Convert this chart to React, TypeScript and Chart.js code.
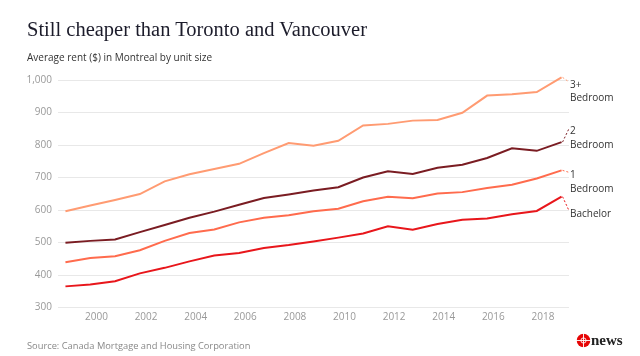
import React, { useEffect, useRef } from "react";
import { Chart, registerables } from "chart.js";

Chart.register(...registerables);

// Survey years (October surveys)
const years = [1998, 1999, 2000, 2001, 2002, 2003, 2004, 2005, 2006, 2007, 2008, 2009, 2010, 2011, 2012, 2013, 2014, 2015, 2016, 2017, 2018];
const surveyMonthOffset = 0.75;

const threePlusBedroom = [596, 614, 631, 649, 688, 710, 726, 742, 775, 806, 798, 813, 860, 865, 875, 877, 899, 952, 956, 963, 1008];
const twoBedroom = [499, 505, 509, 532, 554, 576, 595, 616, 637, 648, 660, 670, 700, 719, 711, 730, 739, 760, 790, 782, 809];
const oneBedroom = [439, 452, 458, 476, 505, 529, 540, 562, 576, 584, 596, 604, 627, 641, 636, 651, 655, 668, 678, 697, 722];
const bachelor = [365, 371, 381, 405, 422, 442, 460, 468, 483, 492, 503, 515, 528, 550, 539, 557, 570, 574, 587, 597, 641];

const xTickLabels = [2000, 2002, 2004, 2006, 2008, 2010, 2012, 2014, 2016, 2018];
const yTickValues = [300, 400, 500, 600, 700, 800, 900, 1000];

const seriesLabels = [["3+", "Bedroom"], ["2", "Bedroom"], ["1", "Bedroom"], ["Bachelor"]];
const seriesValues = [threePlusBedroom, twoBedroom, oneBedroom, bachelor];
const seriesColors = ["#ff9b72", "#7a1c22", "#ff6b4d", "#e8161b"];
// label first-line vertical offset from the last point (px)
const labelOffsets = [7.5, -10.5, 5, 17];

const endLabelPlugin = {
  id: "endLabels",
  afterDatasetsDraw(chart: any) {
    const ctx = chart.ctx;
    ctx.save();
    chart.data.datasets.forEach((ds: any, i: number) => {
      const meta = chart.getDatasetMeta(i);
      const last = meta.data[meta.data.length - 1];
      if (!last) return;
      const px = last.x;
      const py = last.y;
      const lx = chart.chartArea.right + 1;
      const ly = py + labelOffsets[i];
      ctx.strokeStyle = ds.borderColor;
      ctx.lineWidth = 1;
      ctx.setLineDash([2, 2]);
      ctx.beginPath();
      ctx.moveTo(px + 1, py);
      ctx.lineTo(lx - 1, ly - 3);
      ctx.stroke();
      ctx.setLineDash([]);
      ctx.fillStyle = "#333333";
      ctx.font = "10px 'Open Sans'";
      ctx.textAlign = "left";
      ctx.textBaseline = "middle";
      seriesLabels[i].forEach((t, j) => {
        ctx.fillText(t, lx, ly + j * 13.5);
      });
    });
    ctx.restore();
  },
};

export default function App() {
  const ref = useRef<HTMLCanvasElement | null>(null);

  useEffect(() => {
    if (!ref.current) return;
    const chart = new Chart(ref.current, {
      type: "line",
      data: {
        datasets: seriesValues.map((vals, i) => ({
          label: seriesLabels[i].join(" "),
          data: vals.map((v, k) => ({ x: years[k] + surveyMonthOffset, y: v })),
          borderColor: seriesColors[i],
          backgroundColor: seriesColors[i],
          borderWidth: 2,
          pointRadius: 0,
          tension: 0,
          fill: false,
          clip: false,
        })),
      },
      options: {
        animation: false,
        responsive: false,
        devicePixelRatio: 1,
        layout: { padding: { left: 0, right: 71, top: 80, bottom: 0 } },
        plugins: { legend: { display: false }, tooltip: { enabled: false }, title: { display: false } },
        scales: {
          x: {
            type: "linear",
            min: 1998.45,
            max: 2019.05,
            grid: { display: false, drawTicks: false },
            border: { display: false },
            afterBuildTicks: (s: any) => {
              s.ticks = xTickLabels.map((v) => ({ value: v }));
            },
            afterFit: (s: any) => {
              s.height = 48.5;
            },
            ticks: {
              autoSkip: false,
              maxRotation: 0,
              padding: 4,
              color: "#999999",
              font: { family: "'Open Sans'", size: 10 },
              callback: (v: any) => String(v),
            },
          },
          y: {
            type: "linear",
            min: 300,
            max: 1000,
            grid: { color: "#e8e8e8", lineWidth: 1, drawTicks: false },
            border: { display: false },
            afterBuildTicks: (s: any) => {
              s.ticks = yTickValues.map((v) => ({ value: v }));
            },
            afterFit: (s: any) => {
              s.width = 58;
            },
            ticks: {
              padding: 6,
              color: "#999999",
              font: { family: "'Open Sans'", size: 10 },
              callback: (v: any) => Number(v).toLocaleString("en-US"),
            },
          },
        },
      },
      plugins: [endLabelPlugin],
    });
    return () => chart.destroy();
  }, []);

  return (
    <div style={{ position: "absolute", left: 0, top: 0, width: 640, height: 356, background: "#fff", overflow: "hidden" }}>
      <canvas ref={ref} width={640} height={356} style={{ position: "absolute", left: 0, top: 0 }} />
      <div style={{ position: "absolute", left: 27, top: 18.5, fontFamily: "'Liberation Serif', serif", fontSize: 20.5, lineHeight: "20.5px", color: "#1c1c2b", whiteSpace: "nowrap" }}>
        Still cheaper than Toronto and Vancouver
      </div>
      <div style={{ position: "absolute", left: 27, top: 52, fontFamily: "'Open Sans', sans-serif", fontSize: 10, lineHeight: "10px", color: "#333", whiteSpace: "nowrap" }}>
        Average rent ($) in Montreal by unit size
      </div>
      <div style={{ position: "absolute", left: 27, top: 340.5, fontFamily: "'Open Sans', sans-serif", fontSize: 9.3, lineHeight: "9.3px", color: "#888", whiteSpace: "nowrap" }}>
        Source: Canada Mortgage and Housing Corporation
      </div>
      <svg width={15} height={15} viewBox="0 0 15 15" style={{ position: "absolute", left: 576, top: 333 }}>
        <circle cx={7.5} cy={7.5} r={6.8} fill="#e60505" />
        <line x1={0} y1={7.5} x2={15} y2={7.5} stroke="#fff" strokeWidth={0.9} />
        <line x1={7.5} y1={0} x2={7.5} y2={15} stroke="#fff" strokeWidth={0.9} />
        <circle cx={7.5} cy={7.5} r={2.6} fill="none" stroke="#fff" strokeWidth={0.9} />
      </svg>
      <div style={{ position: "absolute", left: 591, top: 333, fontFamily: "'Liberation Serif', serif", fontWeight: "bold", fontSize: 15, lineHeight: "15px", color: "#222", whiteSpace: "nowrap" }}>
        news
      </div>
    </div>
  );
}
